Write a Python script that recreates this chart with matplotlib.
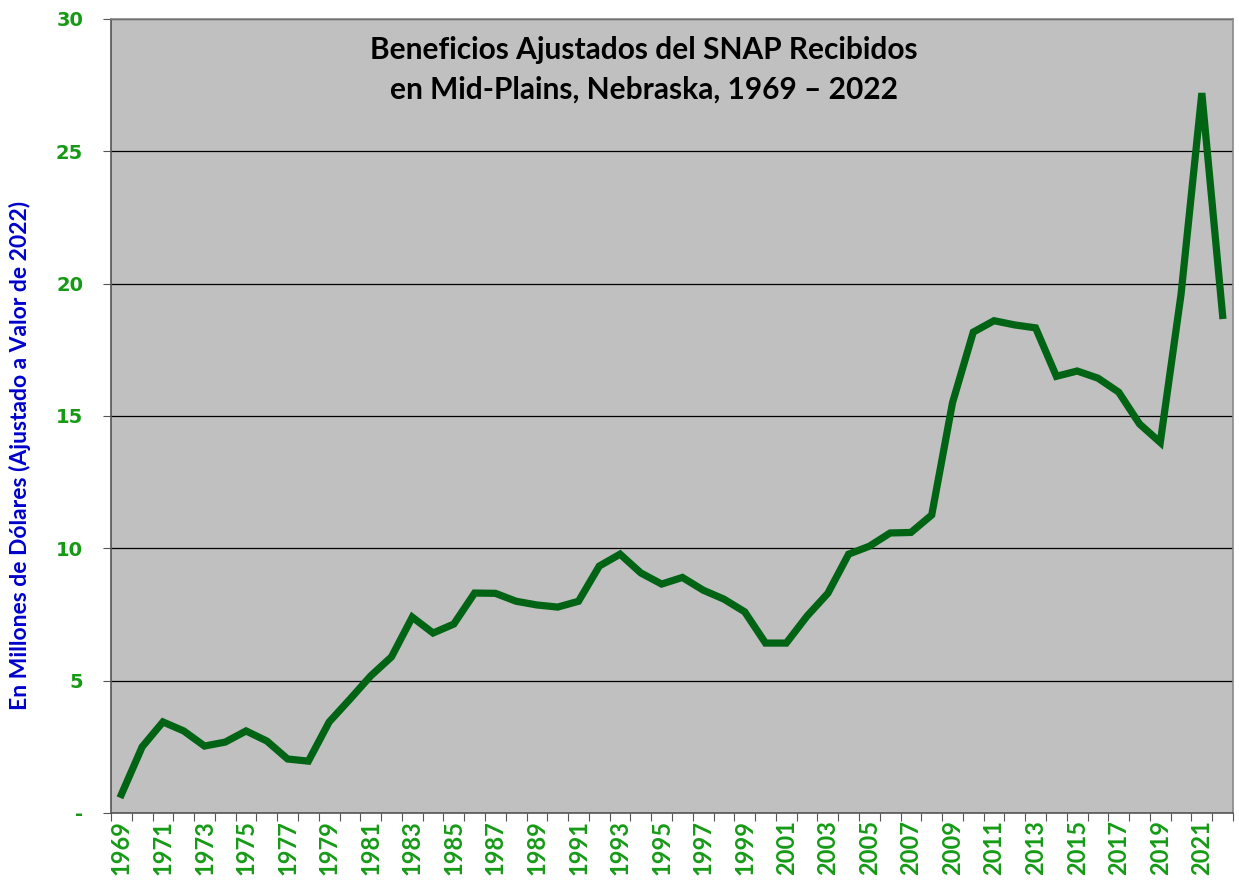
import matplotlib
matplotlib.use("Agg")
import matplotlib.pyplot as plt
import numpy as np

# datos (millones de dolares, valor 2022)
years = list(range(1969, 2023))
benefits = [0.7, 2.5, 3.44, 3.1, 2.53, 2.68, 3.1, 2.72, 2.04, 1.96,
            3.44, 4.3, 5.18, 5.9, 7.4, 6.8, 7.14, 8.31, 8.3, 8.0,
            7.86, 7.78, 8.0, 9.33, 9.78, 9.07, 8.65, 8.9, 8.42, 8.08,
            7.6, 6.42, 6.42, 7.44, 8.3, 9.78, 10.08, 10.58, 10.6, 11.26,
            15.5, 18.17, 18.6, 18.44, 18.33, 16.5, 16.7, 16.43, 15.9, 14.7,
            14.0, 19.6, 27.2, 18.8]
yticks = [0, 5, 10, 15, 20, 25, 30]
ytick_labels = ["-", "5", "10", "15", "20", "25", "30"]

title = "Beneficios Ajustados del SNAP Recibidos\nen Mid-Plains, Nebraska, 1969 \u2013 2022"
ylabel = "En Millones de D\u00f3lares (Ajustado a Valor de 2022)"

fig = plt.figure(figsize=(12.39, 8.84), dpi=100, facecolor="white")
ax = fig.add_axes([111/1239, 1-813/884, (1233-111)/1239, (813-19)/884])
ax.set_facecolor("#c0c0c0")

x = np.arange(len(years))
ax.plot(x, benefits, color="#006414", linewidth=5.2, solid_joinstyle="miter", zorder=3)

ax.set_xlim(-0.5, len(years) - 0.5)
ax.set_ylim(0, 30)
ax.set_yticks(yticks)
ax.set_yticklabels(ytick_labels, fontfamily="DejaVu Sans", fontweight="bold",
                   fontsize=14, color="#169a16")
ax.yaxis.grid(True, color="black", linewidth=0.9)
ax.set_axisbelow(True)

# ticks between categories, labels every other year
ax.set_xticks(np.arange(len(years) + 1) - 0.5)
ax.set_xticklabels([])
ax.set_xticks(x[::2], minor=True)
ax.set_xticklabels([str(y) for y in years[::2]], minor=True, rotation=90,
                   fontfamily="Lato", fontweight="bold", fontsize=17, color="#169a16")
ax.tick_params(axis="x", which="major", length=6, color="#555555")
ax.tick_params(axis="x", which="minor", length=0, pad=5)
ax.tick_params(axis="y", length=6, pad=14, color="#555555")

for s in ["top", "right"]:
    ax.spines[s].set_color("#888888")
    ax.spines[s].set_linewidth(1.2)
for s in ["left", "bottom"]:
    ax.spines[s].set_color("#555555")
    ax.spines[s].set_linewidth(1.2)

ax.set_ylabel(ylabel, fontfamily="Lato", fontweight="bold", fontsize=16.5,
              color="#0000cc")
ax.yaxis.set_label_coords(-0.071, 0.45)

ax.text(0.475, 0.978, title, transform=ax.transAxes, ha="center", va="top",
        fontfamily="Lato", fontweight="bold", fontsize=21.5, linespacing=1.5)

fig.savefig("out.png", dpi=100)
